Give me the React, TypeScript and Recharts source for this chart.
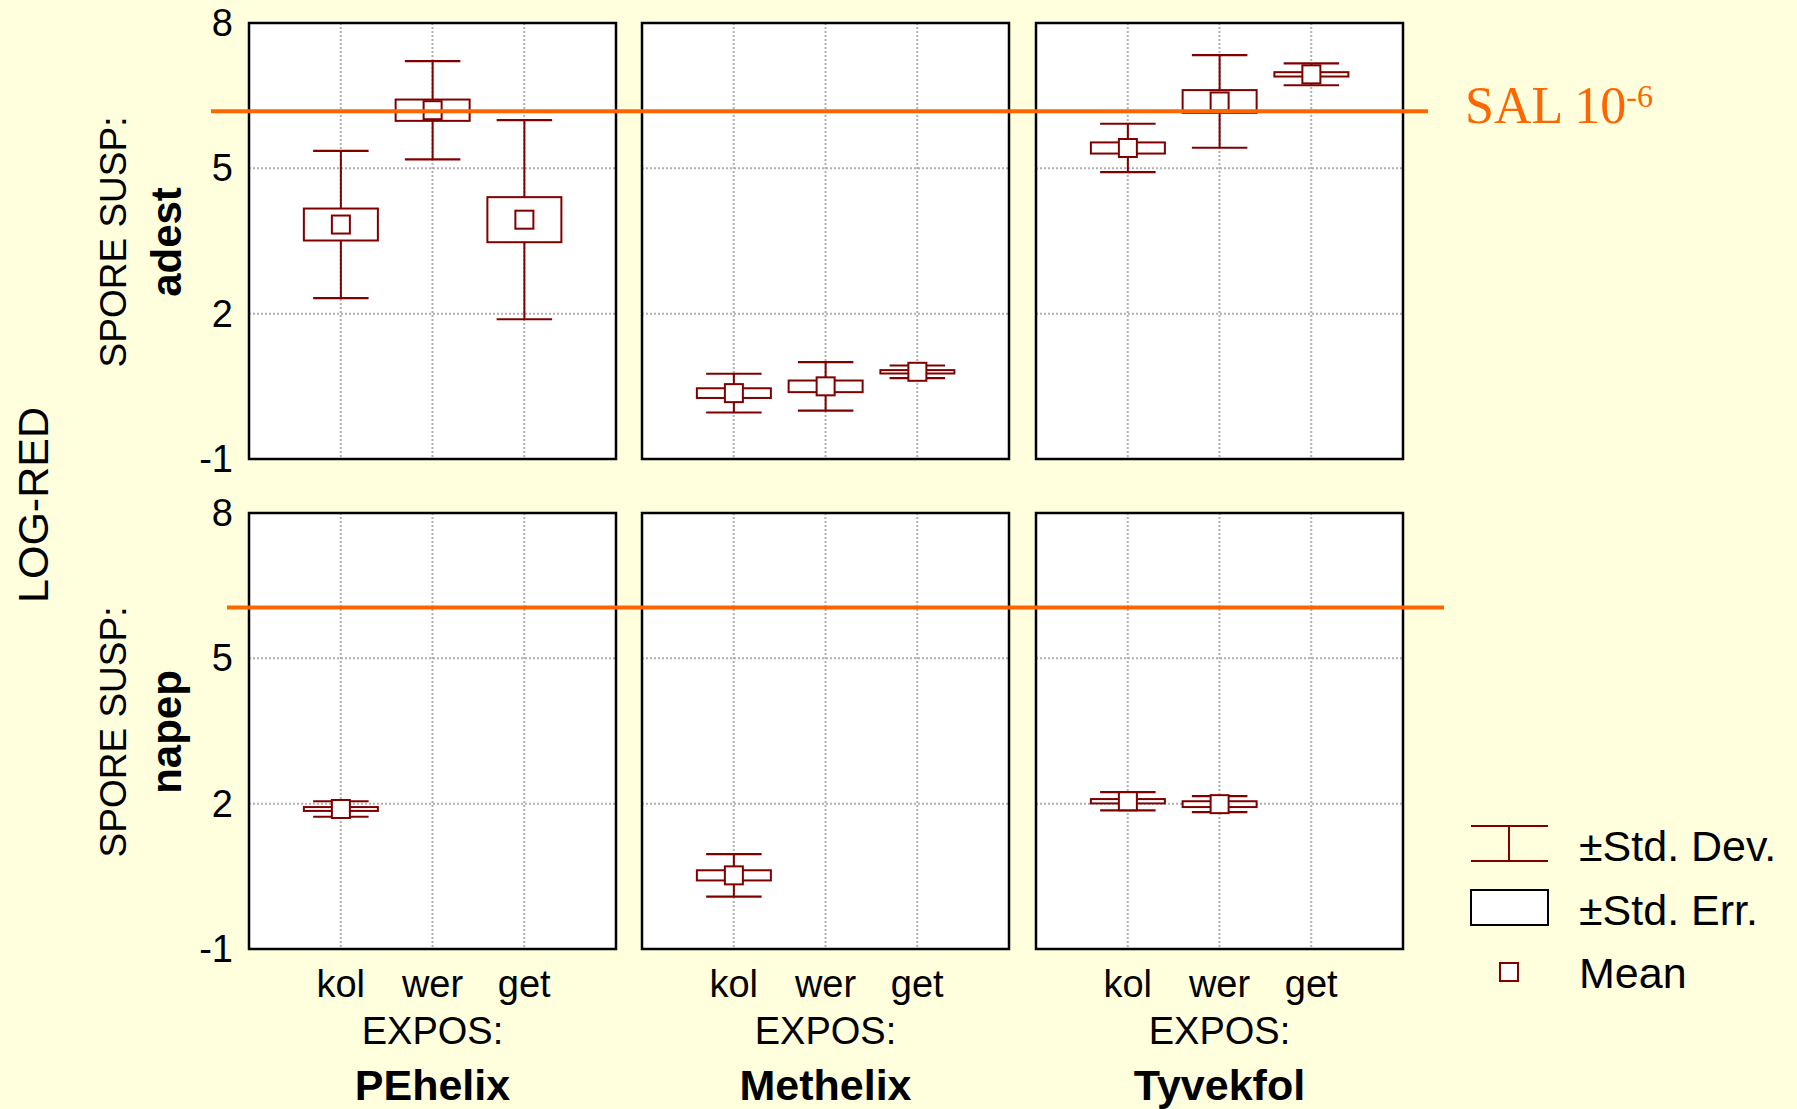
import React from "react";
import {ComposedChart, Bar, XAxis, YAxis, CartesianGrid, ReferenceArea, ReferenceLine} from "recharts";

// ---- data ----
const categories = ["kol", "wer", "get"];
const categoryPos = [1, 2, 3];
const materials = ["PEhelix", "Methelix", "Tyvekfol"];
const suspensions = ["adest", "napep"];
const yTicks = [-1, 2, 5, 8];
const yMinorTicks = [-1, 0, 1, 2, 3, 4, 5, 6, 7, 8];
const salLevels = [6.18, 6.05];

// rows = material (PEhelix, Methelix, Tyvekfol), cols = category (kol, wer, get)
const adestMean = [[3.84, 6.2, 3.94], [0.36, 0.5, 0.8], [5.42, 6.38, 6.94]];
const adestSe = [[0.33, 0.22, 0.465], [0.1, 0.12, 0.035], [0.115, 0.235, 0.045]];
const adestSd = [[1.52, 1.015, 2.055], [0.4, 0.5, 0.13], [0.5, 0.955, 0.225]];

const napepMean = [[1.89, null, null], [0.52, null, null], [2.05, 1.99, null]];
const napepSe = [[0.04, null, null], [0.105, null, null], [0.045, 0.06, null]];
const napepSd = [[0.16, null, null], [0.44, null, null], [0.19, 0.165, null]];

const means = [adestMean, napepMean];
const ses = [adestSe, napepSe];
const sds = [adestSd, napepSd];

// ---- look ----
const BG = "#FFFFDD";
const DARK = "#800000";
const ORANGE = "#FF6600";
const SANS = "'Liberation Sans', Arial, Helvetica, sans-serif";
const SERIF = "'Liberation Serif', 'Times New Roman', serif";

const plotLeft = [249, 642, 1036];
const plotTop = [23, 513];
const plotW = 367;
const plotH = 436;
const padL = 70;
const padT = 20;
const padR = 20;
const padB = 70;
const yAxisW = 60;
const xAxisH = 60;

const salLeft = [211, 227];
const salRight = [1428, 1444];
const salData = [{x: 0}, {x: 1}];

const panelData = (row: number, col: number) =>
    categories.map((cat, i) => {
        const mean = means[row][col][i];
        const se = ses[row][col][i];
        const sd = sds[row][col][i];
        return {
            cat,
            pos: categoryPos[i],
            mean,
            se,
            sd,
            range: mean == null || sd == null ? null : [mean - sd, mean + sd],
        };
    });

const BoxShape = (props: any) => {
    const {x, y, width, height, payload} = props;
    if (!payload || payload.mean == null || !Number.isFinite(y) || !Number.isFinite(height)) return null;
    const top = Math.min(y, y + height);
    const h = Math.abs(height);
    const ppu = h / (2 * payload.sd);
    const cx = x + width / 2;
    const cy = top + h / 2;
    const half = payload.se * ppu;
    const cap = width * 0.375;
    return (
        <g>
            <line x1={cx} y1={top} x2={cx} y2={top + h} stroke={DARK} strokeWidth={2}/>
            <line x1={cx - cap} y1={top} x2={cx + cap} y2={top} stroke={DARK} strokeWidth={2.2}/>
            <line x1={cx - cap} y1={top + h} x2={cx + cap} y2={top + h} stroke={DARK} strokeWidth={2.2}/>
            <rect x={x} y={cy - half} width={width} height={2 * half} fill="#fff" stroke={DARK} strokeWidth={2}/>
            <rect x={cx - 9} y={cy - 9} width={18} height={18} fill="#fff" stroke={DARK} strokeWidth={2}/>
        </g>
    );
};

const NoTick = () => <g/>;

const YTick = (props: any) => {
    const {x, y, payload} = props;
    return (
        <text x={x} y={y} textAnchor="end" dominantBaseline="central" fontSize={38} fontFamily={SANS} fill="#000">
            {payload.value}
        </text>
    );
};

const XTick = (props: any) => {
    const {x, y, payload} = props;
    return (
        <text x={x} y={y + 48} textAnchor="middle" fontSize={38} fontFamily={SANS} fill="#000">
            {categories[payload.value - 1]}
        </text>
    );
};

const Panel = ({row, col}: { row: number; col: number }) => {
    const showY = col === 0;
    const showX = row === 1;
    return (
        <div style={{position: "absolute", left: plotLeft[col] - padL, top: plotTop[row] - padT}}>
            <ComposedChart width={padL + plotW + padR} height={padT + plotH + padB} data={panelData(row, col)}
                           margin={{
                               top: padT,
                               right: padR,
                               bottom: showX ? padB - xAxisH : padB,
                               left: showY ? padL - yAxisW : padL
                           }}>
                <CartesianGrid xAxisId="x" yAxisId="y" fill="#fff" fillOpacity={1} stroke="#b0b0b0"
                               strokeWidth={2} strokeDasharray="2 2"/>
                <XAxis xAxisId="x" type="number" dataKey="pos" domain={[0, 4]} ticks={categoryPos}
                       allowDataOverflow interval={0} height={showX ? xAxisH : 0} axisLine={false}
                       tickLine={false} tickSize={0} tickMargin={0} tick={showX ? <XTick/> : <NoTick/>}/>
                <XAxis xAxisId="xt" orientation="top" mirror type="number" dataKey="pos" domain={[0, 4]}
                       ticks={categoryPos} allowDataOverflow interval={0} height={0} axisLine={false}
                       tick={<NoTick/>} tickSize={5} stroke="#000" tickLine={{strokeWidth: 2}}/>
                <XAxis xAxisId="xb" orientation="bottom" mirror type="number" dataKey="pos" domain={[0, 4]}
                       ticks={categoryPos} allowDataOverflow interval={0} height={0} axisLine={false}
                       tick={<NoTick/>} tickSize={5} stroke="#000" tickLine={{strokeWidth: 2}}/>
                <YAxis yAxisId="y" type="number" domain={[-1, 8]} ticks={yTicks} allowDataOverflow interval={0}
                       width={showY ? yAxisW : 0} axisLine={false} tickLine={false} tickSize={0} tickMargin={16}
                       tick={showY ? <YTick/> : <NoTick/>}/>
                <YAxis yAxisId="yl" orientation="left" mirror type="number" domain={[-1, 8]} ticks={yMinorTicks}
                       allowDataOverflow interval={0} width={0} axisLine={false} tick={<NoTick/>} tickSize={5}
                       stroke="#000" tickLine={{strokeWidth: 2}}/>
                <YAxis yAxisId="yr" orientation="right" mirror type="number" domain={[-1, 8]} ticks={yMinorTicks}
                       allowDataOverflow interval={0} width={0} axisLine={false} tick={<NoTick/>} tickSize={5}
                       stroke="#000" tickLine={{strokeWidth: 2}}/>
                <ReferenceArea xAxisId="x" yAxisId="y" y1={-1} y2={8} fill="none" fillOpacity={0}
                               stroke="#000" strokeWidth={2.5}/>
                <Bar xAxisId="x" yAxisId="y" dataKey="range" barSize={74} shape={BoxShape}
                     isAnimationActive={false}/>
            </ComposedChart>
        </div>
    );
};

const SalLine = ({row}: { row: number }) => (
    <div style={{position: "absolute", left: salLeft[row], top: plotTop[row] - padT}}>
        <ComposedChart width={salRight[row] - salLeft[row]} height={padT + plotH + padB} data={salData}
                       margin={{top: padT, right: 0, bottom: padB, left: 0}}>
            <XAxis type="number" dataKey="x" domain={[0, 1]} allowDataOverflow hide/>
            <YAxis type="number" domain={[-1, 8]} allowDataOverflow hide/>
            <ReferenceLine y={salLevels[row]} stroke={ORANGE} strokeWidth={4}/>
        </ComposedChart>
    </div>
);

const Labels = () => (
    <svg width={1797} height={1109} style={{position: "absolute", left: 0, top: 0, pointerEvents: "none"}}>
        <text transform="translate(48,505) rotate(-90)" textAnchor="middle" fontSize={43} fontFamily={SANS}
              fill="#000">LOG-RED
        </text>
        {suspensions.map((s, row) => {
            const cy = plotTop[row] + plotH / 2 + 1;
            return (
                <g key={s}>
                    <text transform={`translate(126,${cy}) rotate(-90)`} textAnchor="middle" fontSize={37}
                          fontFamily={SANS} fill="#000">SPORE SUSP:
                    </text>
                    <text transform={`translate(181,${cy}) rotate(-90)`} textAnchor="middle" fontSize={42}
                          fontWeight="bold" fontFamily={SANS} fill="#000">{s}</text>
                </g>
            );
        })}
        {materials.map((m, col) => {
            const cx = plotLeft[col] + plotW / 2;
            const base = plotTop[1] + plotH;
            return (
                <g key={m}>
                    <text x={cx} y={base + 95} textAnchor="middle" fontSize={38} fontFamily={SANS}
                          fill="#000">EXPOS:
                    </text>
                    <text x={cx} y={base + 151} textAnchor="middle" fontSize={43} fontWeight="bold"
                          fontFamily={SANS} fill="#000">{m}</text>
                </g>
            );
        })}
        {/* legend */}
        <line x1={1471} y1={826} x2={1548} y2={826} stroke={DARK} strokeWidth={2}/>
        <line x1={1471} y1={861} x2={1548} y2={861} stroke={DARK} strokeWidth={2}/>
        <line x1={1509} y1={826} x2={1509} y2={861} stroke={DARK} strokeWidth={2}/>
        <rect x={1471} y={890} width={77} height={35} fill="#fff" stroke="#000" strokeWidth={2}/>
        <rect x={1500} y={963} width={18} height={18} fill="#fff" stroke={DARK} strokeWidth={2}/>
        <text x={1579} y={861} fontSize={43} fontFamily={SANS} fill="#000">±Std. Dev.</text>
        <text x={1579} y={925} fontSize={43} fontFamily={SANS} fill="#000">±Std. Err.</text>
        <text x={1579} y={988} fontSize={43} fontFamily={SANS} fill="#000">Mean</text>
        {/* SAL label */}
        <text x={1465} y={123} fontSize={52} fontFamily={SERIF} fill={ORANGE}>
            SAL 10<tspan dy={-16} fontSize={32}>-6</tspan>
        </text>
    </svg>
);

const App = () => (
    <div style={{position: "absolute", left: 0, top: 0, width: 1797, height: 1109, background: BG, overflow: "hidden"}}>
        {suspensions.map((s, row) =>
            materials.map((m, col) => <Panel key={`${s}-${m}`} row={row} col={col}/>)
        )}
        {salLevels.map((v, row) => <SalLine key={row} row={row}/>)}
        <Labels/>
    </div>
);

export default App;
